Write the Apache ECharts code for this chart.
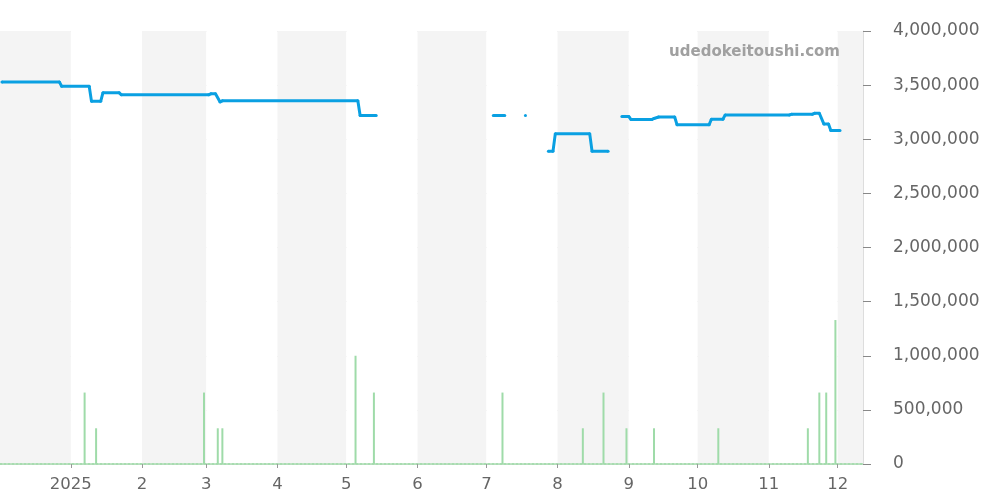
<!DOCTYPE html>
<html>
<head>
<meta charset="utf-8">
<script src="https://cdn.jsdelivr.net/npm/echarts@6/dist/echarts.min.js"></script>
<style>html,body{margin:0;padding:0;background:#fff}#c{width:1000px;height:500px}</style>
</head>
<body>
<div id="c"></div>
<script>
// Price line (null = no data / gap)
const priceDates = [
  '2024-12-02','2024-12-27','2024-12-28','2025-01-09','2025-01-10','2025-01-14','2025-01-15','2025-01-22','2025-01-23',
  '2025-03-02','2025-03-03','2025-03-05','2025-03-07','2025-03-08','2025-05-06','2025-05-07','2025-05-14','2025-05-15',
  '2025-07-04','2025-07-09','2025-07-10','2025-07-18','2025-07-19',
  '2025-07-28','2025-07-30','2025-07-31','2025-08-15','2025-08-16','2025-08-23','2025-08-24',
  '2025-08-29','2025-09-01','2025-09-02','2025-09-11','2025-09-12','2025-09-14','2025-09-21','2025-09-22',
  '2025-10-06','2025-10-07','2025-10-12','2025-10-13','2025-11-10','2025-11-11','2025-11-20','2025-11-21',
  '2025-11-23','2025-11-25','2025-11-27','2025-11-28','2025-12-02'
];
const priceValues = [
  3530000,3530000,3490000,3490000,3350000,3350000,3430000,3430000,3410000,
  3410000,3420000,3420000,3345000,3355000,3355000,3220000,3220000,null,
  3220000,3220000,null,3220000,null,
  2890000,2890000,3050000,3050000,2890000,2890000,null,
  3210000,3210000,3182000,3182000,3192000,3205000,3205000,3135000,
  3135000,3185000,3185000,3225000,3225000,3232000,3232000,3240000,
  3240000,3140000,3140000,3080000,3080000
];
// Volume bars
const volDates = [
  '2025-01-07','2025-01-12','2025-02-28','2025-03-06','2025-03-08','2025-05-05','2025-05-13','2025-07-08',
  '2025-08-12','2025-08-21','2025-08-31','2025-09-12','2025-10-10','2025-11-18','2025-11-23','2025-11-26','2025-11-30'
];
const volValues = [
  660000,330000,660000,330000,330000,1000000,660000,660000,
  330000,660000,330000,330000,330000,330000,660000,660000,1330000
];
const yTicks = [0,500000,1000000,1500000,2000000,2500000,3000000,3500000,4000000];

const toTs = s => { const p = s.split('-').map(Number); return new Date(p[0], p[1]-1, p[2]).getTime(); };
const priceData = priceDates.map((d,i)=>[toTs(d), priceValues[i]]);
const volData = volDates.map((d,i)=>[toTs(d), volValues[i]]);

const chart = echarts.init(document.getElementById('c'), null, {renderer:'canvas'});
const DAY = 86400000;
chart.setOption({
  animation:false,
  backgroundColor:'#ffffff',
  grid:{left:0, right:137, top:31, bottom:36, containLabel:false},
  xAxis:{
    type:'time',
    min: new Date(2024,11,1,14).getTime(),
    max: new Date(2025,11,11,14).getTime(),
    minInterval: 28*DAY, maxInterval: 31*DAY,
    axisLine:{show:true, lineStyle:{color:'#a8dcb0', width:2, type:'dotted'}},
    axisTick:{show:true, length:4, lineStyle:{color:'#999'}},
    axisLabel:{
      color:'#666', fontSize:16.5, fontFamily:'DejaVu Sans', margin:12,
      formatter:function(v){ const d=new Date(v); return d.getMonth()===0 ? String(d.getFullYear()) : String(d.getMonth()+1); }
    },
    splitLine:{show:false},
    splitArea:{show:true, areaStyle:{color:['#f4f4f4','#ffffff']}}
  },
  yAxis:{
    type:'value', position:'right', min:0, max:4000000, interval:500000,
    axisLine:{show:true, lineStyle:{color:'#ddd'}},
    axisTick:{show:true, length:8, lineStyle:{color:'#888'}},
    axisLabel:{color:'#666', fontSize:17, fontFamily:'DejaVu Sans', margin:30,
      formatter:function(v){ return yTicks.indexOf(v)>=0 ? v.toLocaleString('en-US') : ''; }},
    splitLine:{show:true, lineStyle:{color:'#e2e2e2'}}
  },
  graphic:[{type:'text', x:840, y:52, z:100,
    style:{text:'udedokeitoushi.com', fill:'#a0a0a0', fontSize:15, fontWeight:'bold', fontFamily:'DejaVu Sans',
      textAlign:'right', textVerticalAlign:'middle', align:'right', verticalAlign:'middle'}}],
  series:[
    {type:'bar', data:volData, barWidth:2, itemStyle:{color:'#9fdba9'}, z:2},
    {type:'line', data:priceData, connectNulls:false, showSymbol:true, showAllSymbol:true,
      symbol:'circle', symbolSize:3, itemStyle:{color:'#0aa0e2', borderWidth:0},
      lineStyle:{color:'#0aa0e2', width:3}, z:3}
  ]
});
</script>
</body>
</html>
